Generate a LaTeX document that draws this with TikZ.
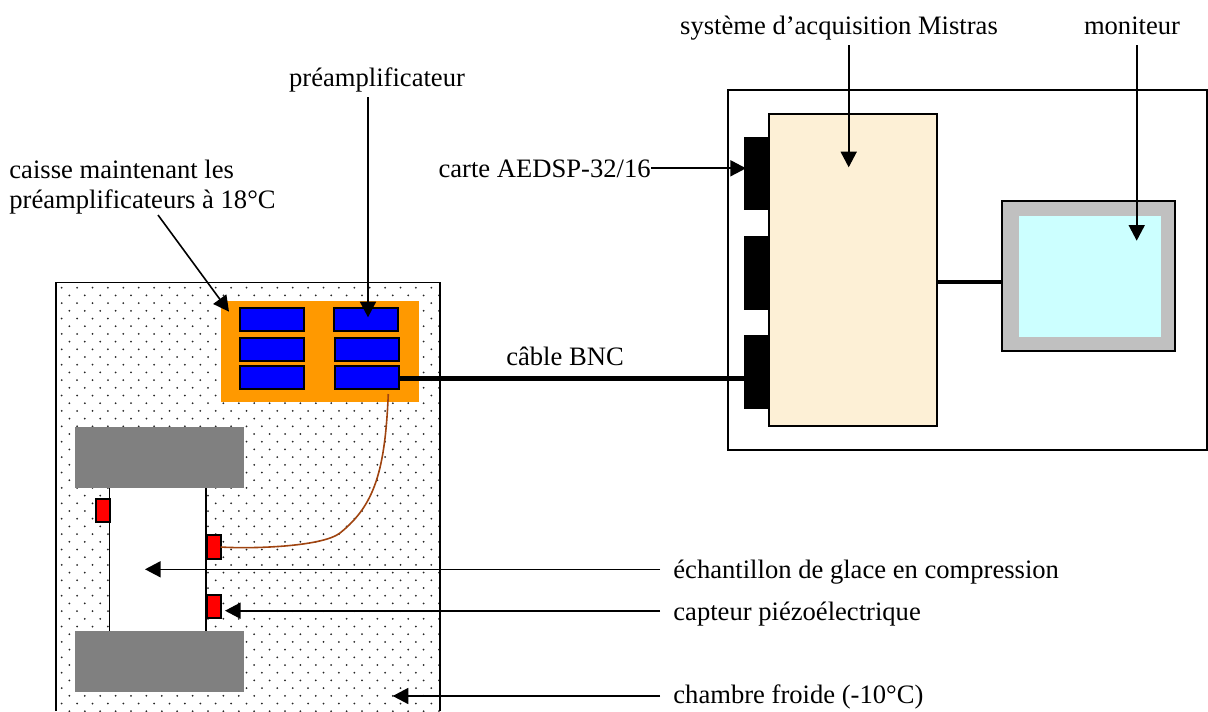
\documentclass[tikz,border=0pt]{standalone}
\usepackage{fontspec}
\setmainfont{Liberation Serif}
\usepackage{tikz}
\usetikzlibrary{arrows.meta,positioning}

\definecolor{caisseorange}{HTML}{FF9900}
\definecolor{mistrasbeige}{HTML}{FDF0D6}
\definecolor{ecrancyan}{HTML}{CCFFFF}
\definecolor{ecrangris}{HTML}{C0C0C0}
\definecolor{cablebrun}{HTML}{A04410}

\begin{document}
\begin{tikzpicture}[
  x=0.5pt, y=-0.5pt,
  font=\fontsize{13.3}{15}\selectfont,
  box/.style={draw, line width=1pt, inner sep=0pt, outer sep=0pt},
  preamp/.style={box, fill=blue, minimum width=32pt, minimum height=11.6pt},
  presse/.style={fill=gray, inner sep=0pt, outer sep=0pt, minimum width=84.5pt, minimum height=30.5pt},
  capteur/.style={box, fill=red, minimum width=7pt, minimum height=11.6pt},
  carte/.style={fill=black, inner sep=0pt, outer sep=0pt, minimum width=12.4pt, minimum height=36.8pt},
  lab/.style={inner xsep=6.5pt, inner ysep=2pt, text depth=3pt},
  arr/.style={-{Triangle[length=7.8pt, width=8pt]}, line width=0.8pt},
  node distance=3.2pt and 14pt]
  \useasboundingbox (0,0) rectangle (1208,711);

  % chambre froide
  \begin{scope}
    \clip (55.7,282.3) rectangle (439.7,711);
    \foreach \row in {0,...,55} {
      \foreach \col in {0,...,25} {
        \pgfmathsetmacro{\dotx}{61.7+15.4*\col+7.7*mod(\row,2)}
        \pgfmathsetmacro{\doty}{287.7+7.7*\row}
        \fill[black!85] (\dotx,\doty) circle (1);
      }
    }
  \end{scope}
  \coordinate (chbl) at (55.7,711);
  \coordinate (chbr) at (439.7,711);
  \coordinate (chtop) at (250,282.3);
  \draw[line width=0.8pt] (chbl) |- (chtop) -| (chbr);

  % echantillon et presses
  \node[fill=white, inner sep=0pt, minimum width=48pt, minimum height=71.5pt] (glace) at (157.7,559.5) {};
  \draw[line width=0.8pt] (glace.north west) -- (glace.south west);
  \draw[line width=0.8pt] (glace.north east) -- (glace.south east);
  \node[presse] (haut) at (159.5,457.5) {};
  \node[presse] (bas) at (159.5,661.5) {};
  \node[capteur] (c1) at (102.5,510.5) {};
  \node[capteur] (c2) at (213.7,547) {};
  \node[capteur] (c3) at (213.7,606.5) {};

  % caisse
  \node[fill=caisseorange, inner sep=0pt, outer sep=0pt, minimum width=99pt, minimum height=50.5pt] (caisse) at (320,351.2) {};
  \node[preamp] (p1) at (272.2,319.2) {};
  \node[preamp, below=3.4pt of p1] (p2) {};
  \node[preamp, below=2.6pt of p2] (p3) {};
  \node[preamp] (p4) at (366.2,319.2) {};
  \node[preamp, below=3.4pt of p4, xshift=0.3pt] (p5) {};
  \node[preamp, below=2.6pt of p5, xshift=0.3pt] (p6) {};

  % systeme d'acquisition
  \coordinate (pcbl) at (727.7,450);
  \coordinate (pctr) at (1207.2,90.3);
  \draw[line width=0.8pt] (pcbl) rectangle (pctr);
  \node[box, line width=0.8pt, fill=mistrasbeige, minimum width=84pt, minimum height=156pt] (mistras) at (853.2,270.2) {};
  \node[carte, anchor=north east] (k1) at (769,136.7) {};
  \node[carte, below=12.8pt of k1] (k2) {};
  \node[carte, below=12.8pt of k2] (k3) {};
  \node[box, fill=ecrangris, minimum width=86.5pt, minimum height=75pt] (moniteur) at (1088.3,276.3) {};
  \node[fill=ecrancyan, inner sep=0pt, minimum width=71pt, minimum height=60.5pt] (ecran) at (1090,276.5) {};

  % textes
  \node[lab, anchor=base] (lsys) at (839,34.8) {système d’acquisition Mistras};
  \node[lab, anchor=base] (lmon) at (1132,34.8) {moniteur};
  \node[lab, anchor=base] (lpre) at (377,87) {préamplificateur};
  \node[anchor=west, inner xsep=0pt, inner ysep=2pt, align=left] (lcaisse) at (9,187) {caisse maintenant les\\[0.2pt]préamplificateurs à 18°C};
  \node[lab, anchor=base east, inner xsep=0pt] (lcarte) at (651,177) {carte AEDSP-32/16};
  \node[lab, anchor=base] (lbnc) at (565,365.5) {câble BNC};
  \node[lab, anchor=base west] (lech) at (660,578) {échantillon de glace en compression};
  \node[lab, anchor=base west] (lcap) at (660,620.3) {capteur piézoélectrique};
  \node[lab, anchor=base west] (lcha) at (660,703) {chambre froide (-10°C)};

  % points d'arrivee
  \coordinate (tsys) at (848.7,167.3);
  \coordinate (tmon) at (1136.7,240.7);
  \coordinate (tpre) at (368,317.3);
  \coordinate (tcaisse) at (229,311.7);
  \coordinate (fcaisse) at (158,215);
  \coordinate (tcarte) at (746,168.3);
  \coordinate (tech) at (145,569.3);
  \coordinate (tcap) at (225,610.7);
  \coordinate (tcha) at (392.7,696);
  \coordinate (fcable) at (388.3,394);
  \coordinate (mcable) at (340,533);

  % connexions
  \draw[arr] (lsys.south -| tsys) -- (tsys);
  \draw[arr] (lmon.south -| tmon) -- (tmon);
  \draw[arr] (lpre.south -| tpre) -- (tpre);
  \draw[arr] (fcaisse) -- (tcaisse);
  \draw[arr] (lcarte.east |- tcarte) -- (tcarte);
  \draw[arr] (lech.west |- tech) -- (tech);
  \draw[arr] (lcap.west |- tcap) -- (tcap);
  \draw[arr] (lcha.west |- tcha) -- (tcha);
  \draw[line width=2.5pt] (p6.east |- 0,378) -- (k3.west |- 0,378);
  \draw[line width=1.8pt] (mistras.east |- 0,282) -- (moniteur.west |- 0,282);
  \draw[cablebrun, line width=0.8pt] (fcable) .. controls (385,470) and (375,505) .. (mcable)
        .. controls (322,547) and (250,549) .. (c2.east);
\end{tikzpicture}
\end{document}
